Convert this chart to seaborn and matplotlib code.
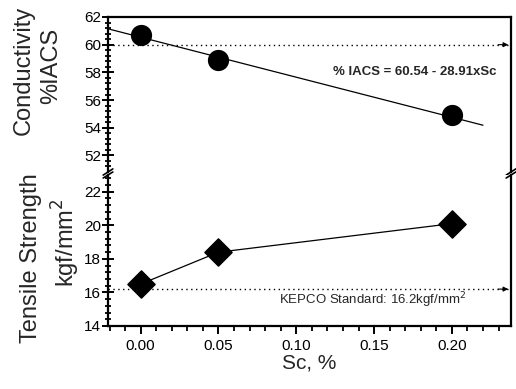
import numpy as np
import pandas as pd
import seaborn as sns
import matplotlib
matplotlib.use("Agg")
import matplotlib.pyplot as plt

sc = [0.00, 0.05, 0.20]
conductivity = [60.7, 58.9, 54.9]
tensile = [16.5, 18.4, 20.1]
fit_intercept = 60.54
fit_slope = -28.91
fit_range = [-0.02, 0.22]
iacs_ref = 60.0
kepco_ref = 16.2

df = pd.DataFrame({"Sc": sc, "cond": conductivity, "ts": tensile})
fit_x = np.array(fit_range)
fit = pd.DataFrame({"Sc": fit_x, "cond": fit_intercept + fit_slope * fit_x})

sns.set_theme(style="ticks")
plt.rcParams["font.family"] = ["Liberation Sans", "DejaVu Sans"]

fig = plt.figure(figsize=(5.16, 3.89), dpi=100)
L, R = 108 / 516, 511 / 516
ax1 = fig.add_axes([L, 1 - 172 / 389, R - L, (172 - 17) / 389])
ax2 = fig.add_axes([L, 1 - 326 / 389, R - L, (326 - 175) / 389], sharex=ax1)

# conductivity part
sns.lineplot(data=fit, x="Sc", y="cond", ax=ax1, color="black", lw=0.9)
sns.scatterplot(data=df, x="Sc", y="cond", ax=ax1, color="black", s=200,
                marker="o", edgecolor="black", zorder=3)
ax1.axhline(iacs_ref, color="black", ls=(0, (1, 2.5)), lw=1.0)
ax1.set_ylim(50.8, 62)
ax1.set_yticks([52, 54, 56, 58, 60, 62])
ax1.set_yticks(np.arange(51.2, 62, 0.4), minor=True)
ax1.text(0.229, 58.0, "% IACS = 60.54 - 28.91xSc", ha="right", va="center",
         fontsize=9.5, fontweight="bold")

# tensile part
sns.lineplot(data=df, x="Sc", y="ts", ax=ax2, color="black", lw=0.9)
sns.scatterplot(data=df, x="Sc", y="ts", ax=ax2, color="black", s=190,
                marker="D", edgecolor="black", zorder=3)
ax2.axhline(kepco_ref, color="black", ls=(0, (1, 2.5)), lw=1.0)
ax2.set_ylim(14, 23.0)
ax2.set_yticks([14, 16, 18, 20, 22])
ax2.set_yticks(np.arange(14, 23, 0.4), minor=True)
ax2.text(0.149, 15.55, "KEPCO Standard: 16.2kgf/mm$^2$", ha="center",
         va="center", fontsize=9.5)

# small arrow heads at the right end of the reference lines
for ax, yref in ((ax1, iacs_ref), (ax2, kepco_ref)):
    ax.annotate("", xy=(0.238, yref), xytext=(0.228, yref),
                arrowprops=dict(arrowstyle="-|>", color="black", lw=0.8,
                                mutation_scale=7))

ax2.set_xlim(-0.021, 0.238)
ax2.set_xticks([0.00, 0.05, 0.10, 0.15, 0.20])
ax2.set_xticklabels(["0.00", "0.05", "0.10", "0.15", "0.20"])
ax2.set_xticks(np.arange(-0.02, 0.24, 0.01), minor=True)

for ax in (ax1, ax2):
    ax.set_xlabel("")
    ax.set_ylabel("")
    ax.tick_params(axis="y", which="major", direction="inout", length=8,
                   width=1.4, left=True, right=False, labelsize=11, pad=1,
                   color="black", labelcolor="black")
    ax.tick_params(axis="y", which="minor", direction="inout", length=5,
                   width=1.3, left=True, right=False, color="black")
    for s in ax.spines.values():
        s.set_color("black")
        s.set_linewidth(1.6)

ax1.spines["bottom"].set_visible(False)
ax2.spines["top"].set_visible(False)
ax1.tick_params(axis="x", which="both", bottom=False, top=False,
                labelbottom=False)
ax2.tick_params(axis="x", which="major", direction="out", length=5.5,
                width=1.4, bottom=True, top=False, labelsize=11,
                color="black", labelcolor="black")
ax2.tick_params(axis="x", which="minor", direction="out", length=3.5,
                width=1.3, bottom=True, top=False, color="black")

# break marks
for ax, y0 in ((ax1, 0.0), (ax2, 1.0)):
    for xb in (0.0, 1.0):
        ax.plot([xb - 0.012, xb + 0.012], [y0 - 0.02, y0 + 0.02],
                transform=ax.transAxes, color="black", lw=1.2, clip_on=False)

ax2.set_xlabel("Sc, %", fontsize=15, labelpad=1)
fig.text(24 / 516, 1 - 70 / 389, "Conductivity", rotation=90,
         ha="center", va="center", fontsize=17)
fig.text(51 / 516, 1 - 66 / 389, "%IACS", rotation=90,
         ha="center", va="center", fontsize=17)
fig.text(31 / 516, 1 - 258 / 389, "Tensile Strength", rotation=90,
         ha="center", va="center", fontsize=17)
fig.text(66 / 516, 1 - 243 / 389, "kgf/mm$^2$", rotation=90,
         ha="center", va="center", fontsize=17)

fig.savefig("out.png", dpi=100)
